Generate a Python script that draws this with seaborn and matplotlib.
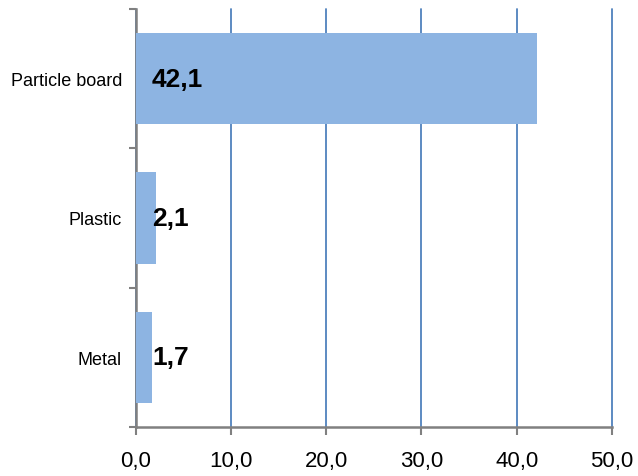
import matplotlib
matplotlib.use('Agg')
import matplotlib.pyplot as plt
import seaborn as sns
import pandas as pd

categories = ['Particle board', 'Plastic', 'Metal']
values = [42.1, 2.1, 1.7]
labels = ['42,1', '2,1', '1,7']
xticks = [0, 10, 20, 30, 40, 50]
xticklabels = ['0,0', '10,0', '20,0', '30,0', '40,0', '50,0']

df = pd.DataFrame({'Material': categories, 'Value': values})

sns.set_style('white')
plt.rcParams['font.family'] = ['Liberation Sans', 'DejaVu Sans']
plt.rcParams['text.color'] = 'black'
plt.rcParams['xtick.color'] = 'black'
plt.rcParams['ytick.color'] = 'black'

fig = plt.figure(figsize=(6.38, 4.77), dpi=100)
ax = fig.add_axes([0.213, 0.103, 0.746, 0.876])

sns.barplot(x='Value', y='Material', data=df, color='#8DB4E2', saturation=1,
            width=0.655, linewidth=0, edgecolor='none', ax=ax, zorder=3)

ax.set_xlim(0, 50)
ax.set_ylim(2.5, -0.5)
ax.set_xticks(xticks)
ax.set_xticklabels(xticklabels, fontsize=16)
ax.set_yticks(range(len(categories)))
ax.set_yticklabels(categories, fontsize=13)
ax.set_yticks([-0.5, 0.5, 1.5, 2.5], minor=True)
ax.tick_params(axis='y', which='major', length=0, pad=10)
ax.tick_params(axis='y', which='minor', length=5, width=1.5, color='#808080', left=True)
ax.tick_params(axis='x', length=6, width=1.5, color='#808080', bottom=True, pad=11)
ax.set_xlabel('')
ax.set_ylabel('')

ax.grid(True, axis='x', color='#4F81BD', linewidth=1.3, zorder=0)
for gl in ax.get_xgridlines():
    gl.set_clip_on(False)
ax.set_axisbelow(True)

for s in ['top', 'right']:
    ax.spines[s].set_visible(False)
for s in ['left', 'bottom']:
    ax.spines[s].set_color('#808080')
    ax.spines[s].set_linewidth(1.8)

for i, lab in enumerate(labels):
    ax.text(1.7, i, lab, fontsize=19, fontweight='bold', va='center', ha='left',
            color='black', zorder=5)

fig.savefig('out.png', dpi=100)
